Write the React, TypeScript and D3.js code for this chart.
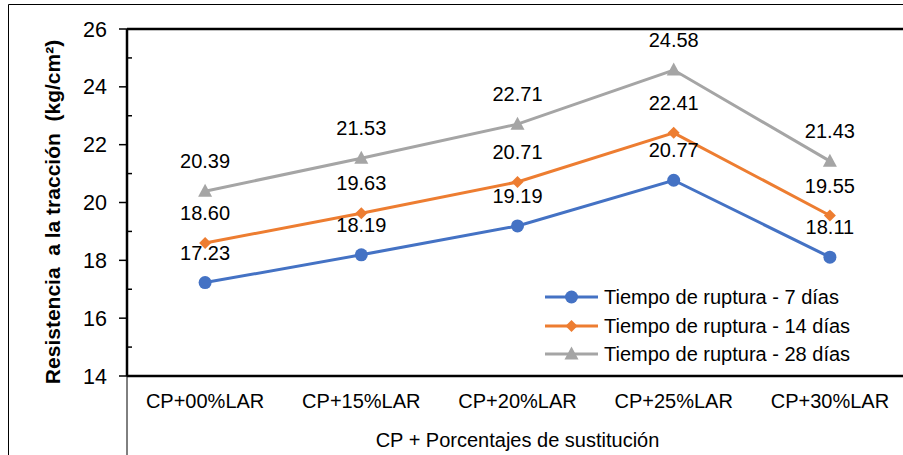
import React from "react";
import * as d3 from "d3";

const categories = ["CP+00%LAR", "CP+15%LAR", "CP+20%LAR", "CP+25%LAR", "CP+30%LAR"];
const days7 = [17.23, 18.19, 19.19, 20.77, 18.11];
const days14 = [18.6, 19.63, 20.71, 22.41, 19.55];
const days28 = [20.39, 21.53, 22.71, 24.58, 21.43];
const seriesNames = ["Tiempo de ruptura - 7 días", "Tiempo de ruptura - 14 días", "Tiempo de ruptura - 28 días"];
const yTicks = [14, 16, 18, 20, 22, 24, 26];
const yMinorTicks = [15, 17, 19, 21, 23, 25];
const yTitle = "Resistencia  a la tracción  (kg/cm²)";
const xTitle = "CP + Porcentajes de sustitución";

const colors = ["#4472C4", "#ED7D31", "#A5A5A5"];
const markers = ["circle", "diamond", "triangle"];

export default function App() {
  const W = 903, H = 455;
  const left = 127, right = 908, top = 29, bottom = 376;
  const x = d3.scaleBand<string>().domain(categories).range([left, right]);
  const y = d3.scaleLinear().domain([14, 26]).range([bottom, top]);
  const cx = (c: string) => (x(c) as number) + x.bandwidth() / 2;
  const data = [days7, days14, days28];
  const font = "'Liberation Sans', Arial, sans-serif";
  const line = d3.line<number>().x((_, i) => cx(categories[i])).y((v) => y(v));

  const marker = (kind: string, px: number, py: number, color: string, key?: string) => {
    if (kind === "circle") return <circle key={key} cx={px} cy={py} r={6.5} fill={color} />;
    if (kind === "diamond") return <path key={key} d={`M${px},${py - 6}L${px + 6},${py}L${px},${py + 6}L${px - 6},${py}Z`} fill={color} />;
    return <path key={key} d={`M${px},${py - 7.5}L${px + 7},${py + 5.5}L${px - 7},${py + 5.5}Z`} fill={color} />;
  };

  const legendY = [297, 326, 354];

  return (
    <svg width={W} height={H} style={{ position: "absolute", left: 0, top: 0, display: "block", background: "#fff" }} fontFamily={font}>
      <rect x={0} y={0} width={W} height={H} fill="#fff" />
      {/* outer border */}
      <line x1={8.5} y1={4.5} x2={W} y2={4.5} stroke="#000" strokeWidth={1} />
      <line x1={8.5} y1={4.5} x2={8.5} y2={H} stroke="#000" strokeWidth={1} />
      {/* plot frame */}
      <line x1={left} y1={top} x2={right} y2={top} stroke="#000" strokeWidth={2.5} />
      <line x1={left} y1={top} x2={left} y2={bottom} stroke="#000" strokeWidth={2.5} />
      <line x1={left} y1={bottom} x2={right} y2={bottom} stroke="#000" strokeWidth={2.5} />
      <line x1={left} y1={bottom} x2={left} y2={H} stroke="#000" strokeWidth={1} />
      {yTicks.map((t) => (
        <g key={"t" + t}>
          <line x1={left - 8} x2={left} y1={y(t)} y2={y(t)} stroke="#000" strokeWidth={1.5} />
          <text x={left - 20} y={y(t)} dy="0.35em" textAnchor="end" fontSize={21.5} fill="#000">{t}</text>
        </g>
      ))}
      {yMinorTicks.map((t) => (
        <line key={"m" + t} x1={left} x2={left + 5} y1={y(t)} y2={y(t)} stroke="#000" strokeWidth={1.5} />
      ))}
      {categories.map((c) => (
        <text key={c} x={cx(c)} y={bottom + 25} dy="0.35em" textAnchor="middle" fontSize={20} fill="#000">{c}</text>
      ))}
      <text x={(left + right) / 2} y={440} dy="0.35em" textAnchor="middle" fontSize={20} fill="#000">{xTitle}</text>
      <text transform={`translate(53,212) rotate(-90)`} textAnchor="middle" dy="0.35em" fontSize={21} fontWeight="bold" fill="#000" style={{ whiteSpace: "pre" }}>{yTitle}</text>
      {data.map((s, si) => (
        <g key={"s" + si}>
          <path d={line(s) || ""} fill="none" stroke={colors[si]} strokeWidth={3} />
          {s.map((v, i) => marker(markers[si], cx(categories[i]), y(v), colors[si], "p" + i))}
        </g>
      ))}
      {data.map((s, si) => s.map((v, i) => (
        <text key={"l" + si + i} x={cx(categories[i])} y={y(v) - 30} dy="0.35em" textAnchor="middle" fontSize={20} fill="#000">{v.toFixed(2)}</text>
      )))}
      {seriesNames.map((n, i) => (
        <g key={n}>
          <line x1={545} x2={598} y1={legendY[i]} y2={legendY[i]} stroke={colors[i]} strokeWidth={3} />
          {marker(markers[i], 571.5, legendY[i], colors[i])}
          <text x={604} y={legendY[i]} dy="0.35em" fontSize={20} fill="#000">{n}</text>
        </g>
      ))}
    </svg>
  );
}
